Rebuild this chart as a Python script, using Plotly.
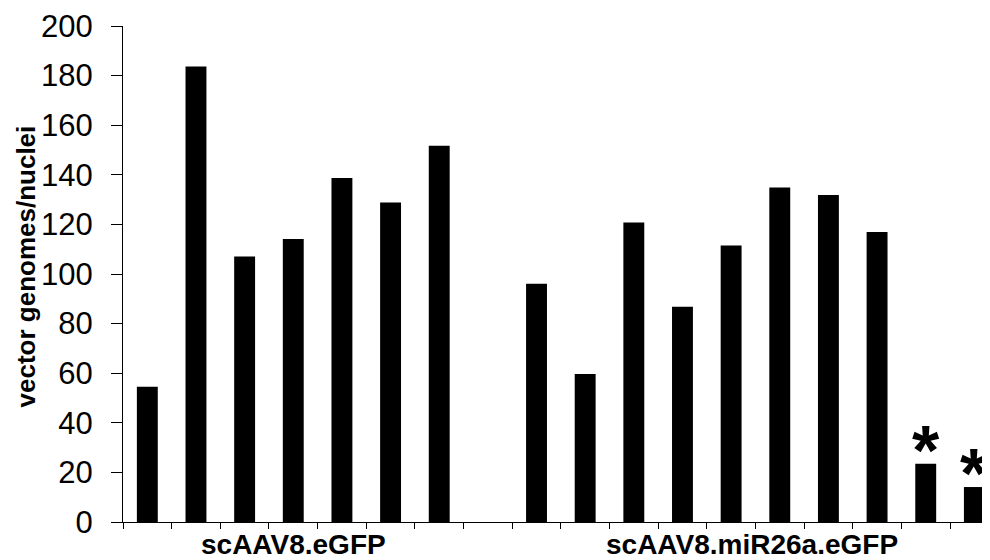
import plotly.graph_objects as go

# Data
group_labels = ["scAAV8.eGFP", "scAAV8.miR26a.eGFP"]
egfp_values = [54.5, 183.7, 107.1, 114.1, 138.7, 128.8, 151.7]
mir_values = [96.1, 59.7, 120.8, 86.8, 111.5, 134.9, 131.9, 116.9, 23.5, 14.1]
mir_significant = [False, False, False, False, False, False, False, False, True, True]
y_ticks = [0, 20, 40, 60, 80, 100, 120, 140, 160, 180, 200]
y_title = "vector genomes/nuclei"

FONT = "Liberation Sans, Arial, sans-serif"

# positions: group 1 in slots 0..6, empty slot 7, group 2 in slots 8..17
n1 = len(egfp_values)
n2 = len(mir_values)
x1 = [i + 0.5 for i in range(n1)]
x2 = [n1 + 1 + i + 0.5 for i in range(n2)]
n_slots = n1 + 1 + n2

# page has an 8px body margin; size the figure so it fills the 990x560 window
W, H = 982, 552
L, T, B = 115, 18, 38
slot_px = 48.65

fig = go.Figure()
fig.add_trace(go.Bar(x=x1 + x2, y=egfp_values + mir_values, width=0.43,
                     marker=dict(color="black", line=dict(width=0)),
                     showlegend=False))

annotations = []
for xv, yv, sig in zip(x2, mir_values, mir_significant):
    if sig:
        annotations.append(dict(x=xv, y=yv, xref="x", yref="y", text="<b>*</b>",
                                showarrow=False, yanchor="bottom",
                                font=dict(family=FONT, size=70, color="black"),
                                yshift=-28))

# group labels
annotations.append(dict(x=n1 / 2, y=0, xref="x", yref="paper", text="<b>%s</b>" % group_labels[0],
                        showarrow=False, yanchor="middle", yshift=-22,
                        font=dict(family=FONT, size=28, color="black")))
annotations.append(dict(x=(n1 + 1 + n_slots) / 2 - 0.08, y=0, xref="x", yref="paper",
                        text="<b>%s</b>" % group_labels[1],
                        showarrow=False, yanchor="middle", yshift=-22,
                        font=dict(family=FONT, size=28, color="black")))
# y title
annotations.append(dict(x=-0.112, y=0.515, xref="paper", yref="paper", text="<b>%s</b>" % y_title,
                        showarrow=False, textangle=-90, xanchor="center", yanchor="middle",
                        font=dict(family=FONT, size=26, color="black")))

fig.update_layout(
    width=W, height=H,
    margin=dict(l=L, r=0, t=T, b=B),
    plot_bgcolor="white", paper_bgcolor="white",
    font=dict(family=FONT, color="black"),
    annotations=annotations,
    xaxis=dict(range=[0, (W - L) / slot_px], tickmode="array",
               tickvals=list(range(0, n_slots + 1)), ticktext=[""] * (n_slots + 1),
               ticks="outside", ticklen=6, tickcolor="black", tickwidth=1,
               showline=True, linecolor="black", linewidth=1,
               showgrid=False, zeroline=False, fixedrange=True),
    yaxis=dict(range=[0, 200], tickmode="array", tickvals=y_ticks,
               ticks="outside", ticklen=11, tickcolor="black", tickwidth=1,
               showline=True, linecolor="black", linewidth=1,
               showgrid=False, zeroline=False,
               tickfont=dict(family=FONT, size=31, color="black"),
               ticklabelstandoff=12),
    bargap=0.57,
)

fig.write_html("out.html")
